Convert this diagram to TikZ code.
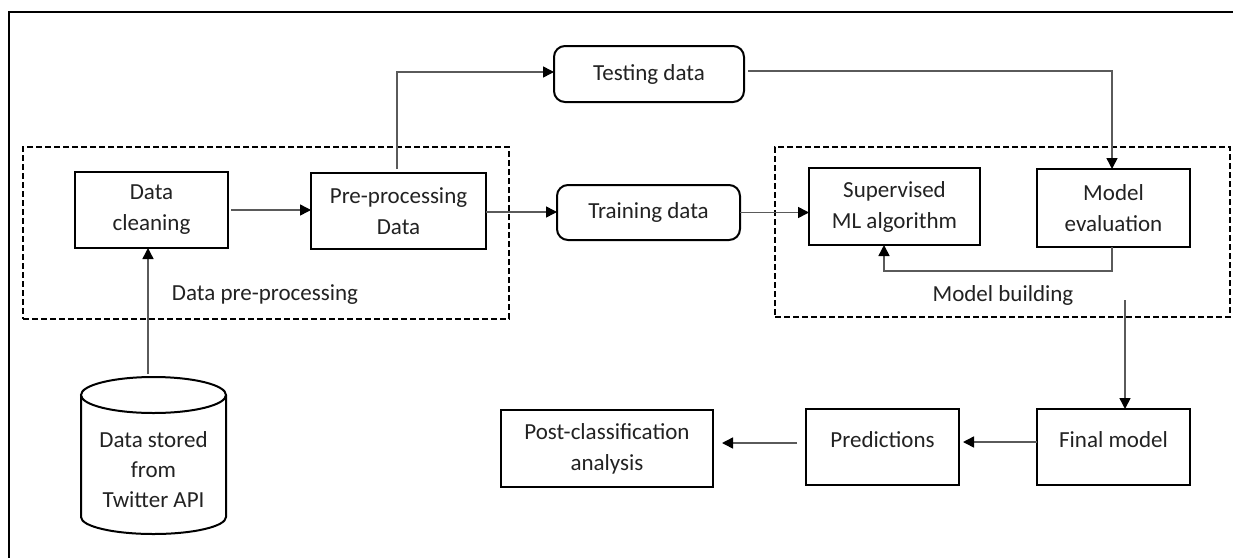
\documentclass[tikz,border=0pt]{standalone}
\usepackage{fontspec}
\setmainfont{Carlito}
\usetikzlibrary{arrows.meta}
\definecolor{conncol}{HTML}{5A5A5A}
\definecolor{txtcol}{HTML}{222222}
\tikzset{
  box/.style={draw=black, line width=2pt, inner sep=0pt, outer sep=0pt, align=center, text=txtcol,
    font=\fontsize{23}{31}\selectfont},
  rbox/.style={box, rounded corners=11pt},
  grpbox/.style={draw=black, line width=2pt, dash pattern=on 6pt off 3pt, inner sep=0pt, outer sep=0pt},
  lbl/.style={text=txtcol, font=\fontsize{23}{31}\selectfont, inner sep=0pt},
  conn/.style={draw=conncol, line width=1.5pt, -{Triangle[length=11pt,width=11pt,color=black]}},
  oneline/.style={text height=16pt, text depth=16pt}
}
\begin{document}
\begin{tikzpicture}[x=1pt,y=-1pt]
\useasboundingbox (0,0) rectangle (1233,557);
\fill[white] (0,0) rectangle (1233,557);
% outer frame
\draw[line width=2pt] (9,558) -- (9,12) -- (1234,12);

% group boxes
\node[grpbox, minimum width=486, minimum height=172] (grp1) at (266,233) {};
\node[grpbox, minimum width=455, minimum height=170] (grp2) at (1002.5,232) {};
\node[lbl] (lbl1) at (265,295) {Data pre-processing};
\node[lbl] (lbl2) at (1003,295) {Model building};

% nodes
\node[box, minimum width=153, minimum height=76] (clean) at (151.5,210) {Data\\cleaning};
\node[box, minimum width=175, minimum height=76] (prep) at (398.5,211) {Pre-processing\\Data};
\node[rbox, minimum width=190, minimum height=56] (test) at (649,74) {Testing data};
\node[rbox, minimum width=183, minimum height=55] (train) at (648.5,212.5) {Training data};
\node[box, minimum width=171, minimum height=77] (sup) at (894.5,206.5) {Supervised\\ML algorithm};
\node[box, minimum width=153, minimum height=78] (eval) at (1113.5,208) {Model\\evaluation};
\node[box, oneline, minimum width=153, minimum height=76] (final) at (1113.5,447) {Final model};
\node[box, oneline, minimum width=153, minimum height=76] (pred) at (882.5,447) {Predictions};
\node[box, minimum width=212, minimum height=77] (post) at (607,448.5) {Post-classification\\analysis};

% cylinder
\draw[line width=2pt] (81,395) -- (81,517) arc[start angle=180, end angle=360, x radius=72.5pt, y radius=17pt] -- (226,395);
\draw[line width=2pt, fill=white] (153.5,395) ellipse [x radius=72.5pt, y radius=18pt];
\node[lbl, align=center, font=\fontsize{23}{30}\selectfont] (cyl) at (153.5,470) {Data stored\\from\\Twitter API};
\coordinate (cyltop) at (148,374);
\coordinate (mbout) at (1125,300);

% connectors
\draw[conn] (cyltop) -- (cyltop |- clean.south);
\draw[conn] ([xshift=3pt]clean.east) -- (clean.east -| prep.west);
\draw[conn] ([xshift=-1.5pt,yshift=4pt]prep.north) |- ([yshift=2pt]test.west);
\draw[conn] ([yshift=-1pt]prep.east) -- ([yshift=-1pt]prep.east -| train.west);
\draw[conn] ([yshift=-6pt]sup.west -| train.east) -- ([yshift=-6pt]sup.west);
\draw[conn] ([xshift=4pt,yshift=3pt]test.east) -| ([xshift=-1.5pt]eval.north);
\draw[conn] ([xshift=-1.5pt]eval.south) -- ++(0,24) -| ([xshift=-10.5pt]sup.south);
\draw[conn] (mbout) -- (mbout |- final.north);
\draw[conn] ([yshift=5pt]final.west) -- ([yshift=5pt,xshift=4pt]final.west -| pred.east);
\draw[conn] ([yshift=4pt,xshift=-9pt]pred.west) -- ([yshift=4pt,xshift=9pt]pred.west -| post.east);
\end{tikzpicture}
\end{document}
